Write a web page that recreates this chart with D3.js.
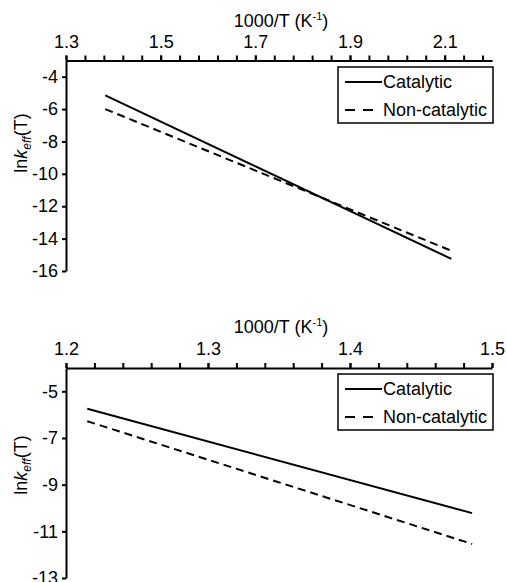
<!DOCTYPE html>
<html>
<head>
<meta charset="utf-8">
<script src="https://cdn.jsdelivr.net/npm/d3@7/dist/d3.min.js"></script>
<style>
  html, body { margin: 0; padding: 0; background: #fff; }
  svg text { font-family: "Liberation Sans", Arial, sans-serif; fill: #000; }
</style>
</head>
<body>
<div id="diagram"></div>
<script>
// data (x = 1000/T, y = ln k_eff)
const topInvT = [1.383, 2.114];
const topCatalytic = [-5.15, -15.25];
const topNonCatalytic = [-6.0, -14.75];
const topXTicks = [1.3, 1.5, 1.7, 1.9, 2.1];
const topYTicks = [-4, -6, -8, -10, -12, -14, -16];

const bottomInvT = [1.215, 1.486];
const bottomCatalytic = [-5.75, -10.22];
const bottomNonCatalytic = [-6.28, -11.54];
const bottomXTicks = [1.2, 1.3, 1.4, 1.5];
const bottomYTicks = [-5, -7, -9, -11, -13];

const seriesNames = ['Catalytic', 'Non-catalytic'];

!(function () {
  'use strict';
  // - - - - - - - - - -
  let
    svg = undefined,
    canvas = undefined,
    panels = undefined,
    drawPanel = undefined;

  canvas = { width: 506, height: 582, fontSize: 18 };

  panels = [
    {
      top: 60.5, bottom: 271, left: 66, right: 492,
      xDomain: [1.3, 2.2], yDomain: [-16, -3],
      minorStep: 0.04, xTicks: topXTicks, yTicks: topYTicks,
      invT: topInvT, cat: topCatalytic, non: topNonCatalytic,
      titleY: 27, yTitleY: 143, legendY: 67
    },
    {
      top: 368, bottom: 578, left: 66, right: 492,
      xDomain: [1.2, 1.5], yDomain: [-13, -4],
      minorStep: 0.02, xTicks: bottomXTicks, yTicks: bottomYTicks,
      invT: bottomInvT, cat: bottomCatalytic, non: bottomNonCatalytic,
      titleY: 333, yTitleY: 465, legendY: 374
    }
  ];

  svg = d3.select('#diagram')
    .append('svg')
    .attr('width', canvas.width)
    .attr('height', canvas.height);

  drawPanel = function (p) {
    let
      g = svg.append('g'),
      xScale = d3.scaleLinear().domain(p.xDomain).range([p.left, p.right]),
      yScale = d3.scaleLinear().domain(p.yDomain).range([p.bottom, p.top]),
      nMinor = Math.floor((p.xDomain[1] - p.xDomain[0]) / p.minorStep + 1e-6),
      minor = d3.range(nMinor + 1).map(i => p.xDomain[0] + i * p.minorStep),
      line = d3.line().x(d => xScale(d[0])).y(d => yScale(d[1]));

    // minor ticks on top axis
    g.append('g')
      .attr('transform', 'translate(0,' + p.top + ')')
      .call(d3.axisTop(xScale).tickValues(minor).tickFormat('').tickSize(5).tickSizeOuter(0))
      .call(s => s.selectAll('path,line').attr('stroke', '#000').attr('stroke-width', 2));

    // major labels
    g.append('g')
      .attr('transform', 'translate(0,' + p.top + ')')
      .call(d3.axisTop(xScale).tickValues(p.xTicks).tickFormat(d => d.toFixed(1)).tickSize(5).tickPadding(8).tickSizeOuter(0))
      .call(s => s.select('.domain').remove())
      .call(s => s.selectAll('line').attr('stroke', '#000').attr('stroke-width', 2))
      .call(s => s.selectAll('text').attr('font-size', canvas.fontSize).attr('font-family', null));

    // y axis
    g.append('g')
      .attr('transform', 'translate(' + p.left + ',0)')
      .call(d3.axisLeft(yScale).tickValues(p.yTicks).tickFormat(d => String(d)).tickSize(4).tickPadding(4).tickSizeOuter(0))
      .call(s => s.selectAll('path,line').attr('stroke', '#000').attr('stroke-width', 2))
      .call(s => s.selectAll('text').attr('font-size', canvas.fontSize).attr('font-family', null));

    // x title
    let xt = g.append('text')
      .attr('x', 281)
      .attr('y', p.titleY)
      .attr('text-anchor', 'middle')
      .attr('font-size', canvas.fontSize);
    xt.append('tspan').text('1000/T (K');
    xt.append('tspan').attr('font-size', 11).attr('dy', -7).text('-1');
    xt.append('tspan').attr('dy', 7).text(')');

    // y title
    let yt = g.append('text')
      .attr('transform', 'translate(27,' + p.yTitleY + ') rotate(-90)')
      .attr('text-anchor', 'middle')
      .attr('font-size', canvas.fontSize);
    yt.append('tspan').text('ln');
    yt.append('tspan').attr('font-style', 'italic').text('k');
    yt.append('tspan').attr('font-style', 'italic').attr('font-size', 12).attr('dy', 4).text('eff');
    yt.append('tspan').attr('dy', -4).text('(T)');

    // series
    g.append('path')
      .datum(p.invT.map((x, i) => [x, p.cat[i]]))
      .attr('d', line)
      .attr('fill', 'none')
      .attr('stroke', '#000')
      .attr('stroke-width', 2);

    g.append('path')
      .datum(p.invT.map((x, i) => [x, p.non[i]]))
      .attr('d', line)
      .attr('fill', 'none')
      .attr('stroke', '#000')
      .attr('stroke-width', 2)
      .attr('stroke-dasharray', '8,5');

    // legend
    let lg = g.append('g').attr('transform', 'translate(338,' + p.legendY + ')');
    lg.append('rect')
      .attr('width', 155)
      .attr('height', 56)
      .attr('fill', '#fff')
      .attr('stroke', '#000')
      .attr('stroke-width', 1.5);
    seriesNames.forEach((name, i) => {
      let cy = 15 + i * 28;
      lg.append('line')
        .attr('x1', 7).attr('x2', i ? 35 : 44)
        .attr('y1', cy).attr('y2', cy)
        .attr('stroke', '#000')
        .attr('stroke-width', 2)
        .attr('stroke-dasharray', i ? '10,8' : null);
      lg.append('text')
        .attr('x', 45)
        .attr('y', cy + 6)
        .attr('font-size', canvas.fontSize)
        .text(name);
    });
  };

  panels.forEach(drawPanel);
  // - - - - - - - - - -
}());
</script>
</body>
</html>
